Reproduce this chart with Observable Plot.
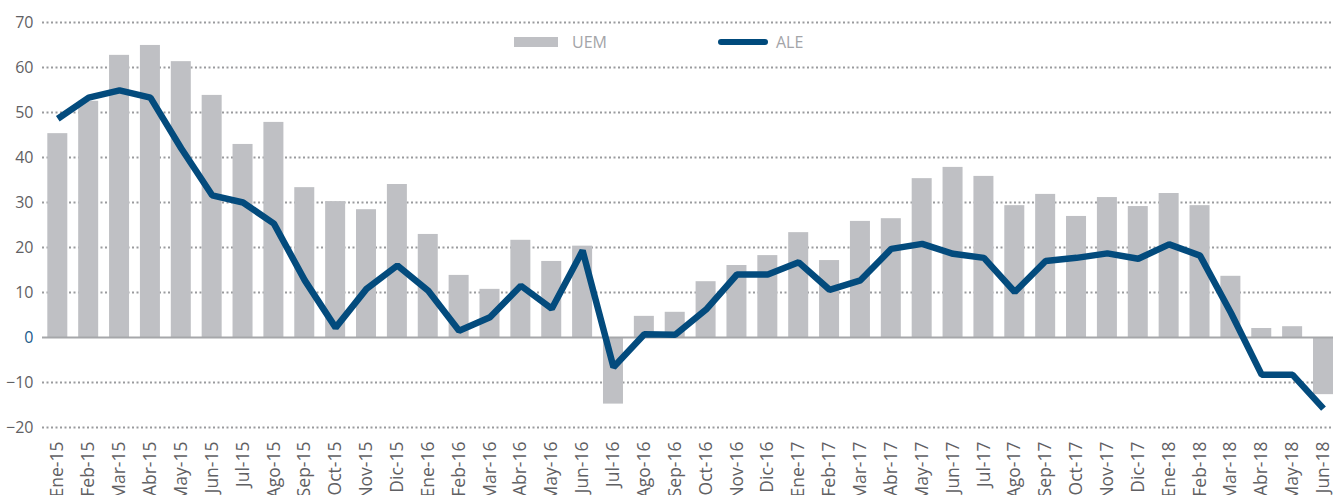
<!DOCTYPE html>
<html>
<head>
<meta charset="utf-8">
<script src="https://cdn.jsdelivr.net/npm/d3@7"></script>
<script src="https://cdn.jsdelivr.net/npm/@observablehq/plot@0.6"></script>
<style>
  html, body { margin: 0; padding: 0; background: #fff; overflow: hidden; }
  #wrap { position: relative; width: 1333px; height: 495px; font-family: "Open Sans", sans-serif; }
  .legend { position: absolute; top: 0; left: 0; width: 100%; height: 0; }
  .item { position: absolute; display: flex; align-items: center; font-size: 16px; color: #a3a4a8; }
  .sw-bar { width: 44px; height: 10px; background: #bfc0c4; margin-right: 14px; }
  .sw-line { width: 50px; height: 6px; border-radius: 3px; background: #004a7c; margin-right: 8px; }
</style>
</head>
<body>
<div id="wrap">
  <div id="chart"></div>
  <div class="legend">
    <div class="item" style="left:514px; top:31px;"><div class="sw-bar"></div><span>UEM</span></div>
    <div class="item" style="left:718px; top:31px;"><div class="sw-line"></div><span>ALE</span></div>
  </div>
</div>
<script>
const months = ["Ene-15","Feb-15","Mar-15","Abr-15","May-15","Jun-15","Jul-15","Ago-15","Sep-15","Oct-15","Nov-15","Dic-15",
  "Ene-16","Feb-16","Mar-16","Abr-16","May-16","Jun-16","Jul-16","Ago-16","Sep-16","Oct-16","Nov-16","Dic-16",
  "Ene-17","Feb-17","Mar-17","Abr-17","May-17","Jun-17","Jul-17","Ago-17","Sep-17","Oct-17","Nov-17","Dic-17",
  "Ene-18","Feb-18","Mar-18","Abr-18","May-18","Jun-18"];
const uem = [45.3,52.5,62.7,64.9,61.3,53.8,42.9,47.8,33.3,30.2,28.4,34.0,
  22.9,13.8,10.7,21.6,16.9,20.3,-14.8,4.7,5.6,12.4,16.0,18.2,
  23.3,17.1,25.8,26.4,35.3,37.8,35.8,29.3,31.8,26.9,31.1,29.1,
  32.0,29.3,13.6,2.0,2.4,-12.7];
const ale = [48.6,53.3,54.9,53.3,42.0,31.6,30.0,25.3,12.7,2.2,10.8,16.0,
  10.4,1.5,4.5,11.5,6.4,19.3,-6.6,0.7,0.6,6.2,14.0,14.0,
  16.7,10.6,12.7,19.7,20.8,18.6,17.7,10.1,17.0,17.7,18.7,17.5,
  20.7,18.2,5.5,-8.3,-8.3,-15.8];
const yTicks = [-20,-10,0,10,20,30,40,50,60,70];

const data = months.map((m, i) => ({month: m, uem: uem[i], ale: ale[i]}));

const chart = Plot.plot({
  width: 1333,
  height: 520,
  marginLeft: 42,
  marginRight: 0,
  marginTop: 22,
  marginBottom: 93,
  style: {fontFamily: "'Open Sans', sans-serif", background: "transparent", overflow: "visible"},
  x: {domain: months, paddingInner: 0.352, paddingOuter: 0.086, align: 1, label: null},
  y: {domain: [-20, 70], label: null},
  marks: [
    Plot.ruleY(yTicks.filter(d => d !== 0), {stroke: "#9a9b9e", strokeWidth: 2, strokeDasharray: "2,2.5"}),
    Plot.barY(data, {x: "month", y: "uem", fill: "#bfc0c4"}),
    Plot.ruleY([0], {stroke: "#a6a7aa", strokeWidth: 2}),
    Plot.line(data, {x: "month", y: "ale", stroke: "#034b7d", strokeWidth: 6.5, strokeLinejoin: "miter", strokeLinecap: "butt"}),
    Plot.axisY(yTicks.filter(d => d !== 0), {tickSize: 0, tickPadding: 9, fontSize: 16, fill: "#5f6063", label: null}),
    Plot.axisY([0], {tickSize: 0, tickPadding: 9, fontSize: 16, fill: "#1a5a8a", label: null}),
    Plot.axisX({tickSize: 0, tickPadding: 14, tickRotate: -90, fontSize: 17.5, fill: "#5f6063", label: null})
  ]
});
document.getElementById("chart").appendChild(chart);
</script>
</body>
</html>
